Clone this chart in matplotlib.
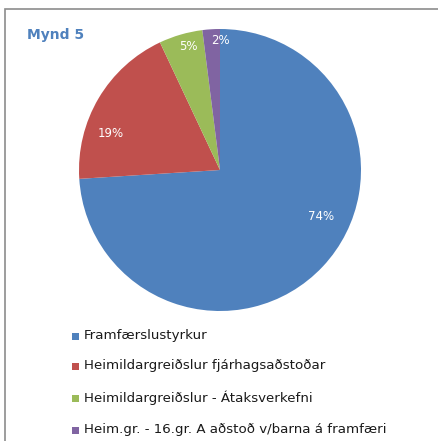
import numpy as np
import matplotlib
matplotlib.use("Agg")
import matplotlib.pyplot as plt
from matplotlib.patches import Rectangle

categories = ["Framfærslustyrkur",
              "Heimildargreiðslur fjárhagsaðstoðar",
              "Heimildargreiðslur - Átaksverkefni",
              "Heim.gr. - 16.gr. A aðstoð v/barna á framfæri"]
values = [74, 19, 5, 2]
labels = ["74%", "19%", "5%", "2%"]
colors = ["#4F81BD", "#C0504D", "#9BBB59", "#8064A2"]
# label placement style (radius fraction, angular shift in degrees)
label_r = [0.79, 0.815, 0.90, 0.92]
label_shift = [18.7, 11.9, -2.0, -4.0]

W, H = 438, 441
fig = plt.figure(figsize=(W/100, H/100), dpi=100)
fig.patch.set_facecolor("white")

# frame
fig.patches.append(Rectangle((5/W, -0.01), 1.0, 1 - 9/H + 0.01, transform=fig.transFigure,
                             fill=False, edgecolor="#8c8c8c", linewidth=1.2))

cx, cy, r = 220, 170, 141
ax = fig.add_axes([(cx - r)/W, 1 - (cy + r)/H, 2*r/W, 2*r/H])
wedges, _ = ax.pie(values, colors=colors, startangle=90, counterclock=False,
                   radius=1.0, wedgeprops=dict(linewidth=0))
ax.set_xlim(-1, 1); ax.set_ylim(-1, 1)
ax.set_aspect("equal")
ax.axis("off")

for w, lab, lr, sh in zip(wedges, labels, label_r, label_shift):
    ang = np.deg2rad((w.theta1 + w.theta2) / 2 + sh)
    ax.text(lr*np.cos(ang), lr*np.sin(ang), lab, color="white", fontsize=8.5,
            ha="center", va="center")

fig.text(27/W, 1 - 35/H, "Mynd 5", color="#4F81BD", fontsize=10, fontweight="bold",
         ha="left", va="center")

ys = [336, 366, 398, 430]
for cat, col, y in zip(categories, colors, ys):
    fig.patches.append(Rectangle((72/W, 1 - (y + 3.5)/H), 7/W, 7/H,
                                 transform=fig.transFigure, facecolor=col, edgecolor="none"))
    fig.text(84/W, 1 - y/H, cat, fontsize=9.6, ha="left", va="center", color="#1a1a1a")

fig.savefig("out.png", dpi=100)
